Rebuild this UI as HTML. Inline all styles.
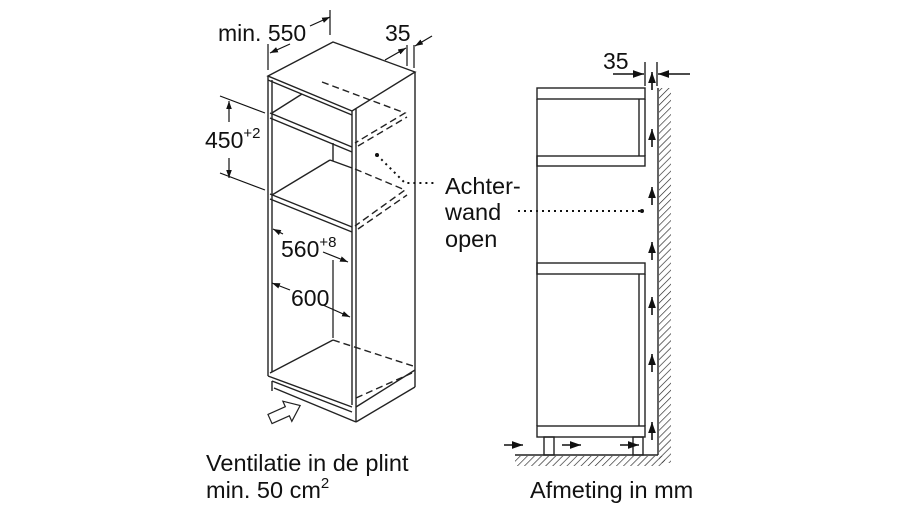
<!DOCTYPE html>
<html><head><meta charset="utf-8"><style>
html,body{margin:0;padding:0;background:#fff;}
svg{display:block;}
text{font-family:"Liberation Sans",Arial,sans-serif;fill:#111;}
</style></head><body>
<svg width="900" height="506" viewBox="0 0 900 506" xmlns="http://www.w3.org/2000/svg">
<defs>
<marker id="ar" viewBox="0 0 10 10" refX="10" refY="5" markerWidth="8" markerHeight="8" markerUnits="userSpaceOnUse" orient="auto-start-reverse"><path d="M0,1.5 L10,5 L0,8.5 z" fill="#111"/></marker>
<marker id="ar2" viewBox="0 0 10 10" refX="10" refY="5" markerWidth="11" markerHeight="11" markerUnits="userSpaceOnUse" orient="auto-start-reverse"><path d="M0,1.5 L10,5 L0,8.5 z" fill="#111"/></marker>
<pattern id="hatch" width="5" height="5" patternUnits="userSpaceOnUse" patternTransform="rotate(45)"><line x1="0" y1="0" x2="0" y2="5" stroke="#222" stroke-width="1.3"/></pattern>
</defs>
<g fill="none" stroke="#222" stroke-width="1.4">
<path d="M268,76 L333,42 L415,72 L352,111 Z"/>
<line x1="268" y1="76" x2="268" y2="376"/>
<line x1="272" y1="80" x2="272" y2="372"/>
<line x1="352" y1="111" x2="352" y2="405"/>
<line x1="356" y1="109" x2="356" y2="407"/>
<line x1="415" y1="72" x2="415" y2="368"/>
<line x1="268" y1="80" x2="352" y2="115"/>
<line x1="270" y1="113" x2="352" y2="147"/>
<line x1="270" y1="118" x2="352" y2="152"/>
<line x1="272" y1="113" x2="302" y2="94"/>
<line x1="333" y1="143" x2="333" y2="161"/>
<path d="M322,82 L405,113 L355,143" stroke-dasharray="7,4"/>
<path d="M358,146 L407,117" stroke-dasharray="7,4"/>
<line x1="270" y1="194" x2="352" y2="227"/>
<line x1="270" y1="199" x2="352" y2="232"/>
<line x1="272" y1="195" x2="330" y2="160"/>
<line x1="330" y1="160" x2="352" y2="168"/>
<path d="M355,169 L405,190 L355,226" stroke-dasharray="7,4"/>
<path d="M358,229 L407,195" stroke-dasharray="7,4"/>
<line x1="270" y1="373" x2="333" y2="340"/>
<path d="M333,340 L413,366" stroke-dasharray="7,4"/>
<path d="M356,398 L412,373" stroke-dasharray="7,4"/>
<line x1="268" y1="376" x2="352" y2="407"/>
<line x1="272" y1="381" x2="352" y2="412"/>
<line x1="272" y1="381" x2="272" y2="391"/>
<line x1="274" y1="388" x2="356" y2="422"/>
<line x1="356" y1="407" x2="356" y2="422"/>
<line x1="356" y1="422" x2="415" y2="387"/>
<line x1="415" y1="368" x2="415" y2="387"/>
<line x1="356" y1="407" x2="415" y2="370"/>
<path transform="translate(270,419) rotate(-24)" d="M0,-5 L19,-5 L19,-11 L33,0 L19,11 L19,5 L0,5 Z" stroke-width="1.2"/>
</g>
<g stroke="#111" stroke-width="1.2" fill="none">
<line x1="268" y1="70" x2="268" y2="44"/>
<line x1="330" y1="35" x2="330" y2="10"/>
<line x1="270" y1="53" x2="290" y2="44" marker-start="url(#ar)"/>
<line x1="310" y1="26" x2="330" y2="17" marker-end="url(#ar)"/>
<line x1="407" y1="66" x2="407" y2="45"/>
<line x1="414" y1="68" x2="414" y2="45"/>
<line x1="385" y1="60" x2="406" y2="48" marker-end="url(#ar)"/>
<line x1="432" y1="36" x2="415" y2="46" marker-end="url(#ar)"/>
<line x1="220" y1="96" x2="265" y2="113"/>
<line x1="220" y1="173" x2="265" y2="190"/>
<line x1="229" y1="101" x2="229" y2="122" marker-start="url(#ar)"/>
<line x1="229" y1="158" x2="229" y2="178" marker-end="url(#ar)"/>
<line x1="273" y1="229" x2="283" y2="234" marker-start="url(#ar)"/>
<line x1="323" y1="252" x2="348" y2="262" marker-end="url(#ar)"/>
<line x1="333" y1="260" x2="333" y2="338"/>
<line x1="272" y1="283" x2="290" y2="290" marker-start="url(#ar)"/>
<line x1="323" y1="305" x2="350" y2="317" marker-end="url(#ar)"/>
<path d="M377,155 L405,183 L435,183" stroke-dasharray="2,4" stroke-width="2"/>
<line x1="518" y1="211" x2="640" y2="211" stroke-dasharray="2,4" stroke-width="2"/>
</g>
<circle cx="377" cy="155" r="2" fill="#111"/>
<circle cx="642" cy="211" r="2" fill="#111"/>
<rect x="659" y="88" width="12" height="375" fill="url(#hatch)"/>
<rect x="515" y="456" width="150" height="10" fill="url(#hatch)"/>
<g fill="none" stroke="#222" stroke-width="1.4">
<line x1="658" y1="88" x2="658" y2="455"/>
<line x1="515" y1="455" x2="658" y2="455"/>
<rect x="537" y="88" width="108" height="11"/>
<rect x="537" y="156" width="108" height="10"/>
<line x1="639" y1="99" x2="639" y2="156"/>
<line x1="645" y1="99" x2="645" y2="156"/>
<line x1="537" y1="99" x2="537" y2="426"/>
<rect x="537" y="263" width="108" height="11"/>
<line x1="639" y1="274" x2="639" y2="426"/>
<line x1="645" y1="274" x2="645" y2="426"/>
<rect x="537" y="426" width="108" height="11"/>
<rect x="544" y="437" width="10" height="18"/>
<rect x="633" y="437" width="10" height="18"/>
<line x1="645" y1="62" x2="645" y2="86"/>
<line x1="657" y1="62" x2="657" y2="86"/>
</g>
<g stroke="#111" stroke-width="1.6" fill="none">
<line x1="613" y1="74" x2="644" y2="74" marker-end="url(#ar2)"/>
<line x1="690" y1="74" x2="658" y2="74" marker-end="url(#ar2)"/>
<line x1="652" y1="90" x2="652" y2="72" marker-end="url(#ar2)"/>
<line x1="652" y1="147" x2="652" y2="129" marker-end="url(#ar2)"/>
<line x1="652" y1="205" x2="652" y2="187" marker-end="url(#ar2)"/>
<line x1="652" y1="260" x2="652" y2="242" marker-end="url(#ar2)"/>
<line x1="652" y1="315" x2="652" y2="297" marker-end="url(#ar2)"/>
<line x1="652" y1="372" x2="652" y2="354" marker-end="url(#ar2)"/>
<line x1="652" y1="440" x2="652" y2="422" marker-end="url(#ar2)"/>
<line x1="504" y1="445" x2="523" y2="445" marker-end="url(#ar2)"/>
<line x1="562" y1="445" x2="581" y2="445" marker-end="url(#ar2)"/>
<line x1="620" y1="445" x2="639" y2="445" marker-end="url(#ar2)"/>
</g>
<text x="218" y="41" font-size="23">min. 550</text>
<text x="385" y="41" font-size="23">35</text>
<text x="205" y="148" font-size="23">450<tspan font-size="15" dy="-10">+2</tspan></text>
<text x="281" y="257" font-size="23">560<tspan font-size="15" dy="-10">+8</tspan></text>
<text x="291" y="306" font-size="23">600</text>
<text x="445" y="194" font-size="23.5">Achter-</text>
<text x="445" y="220" font-size="23.5">wand</text>
<text x="445" y="247" font-size="23.5">open</text>
<text x="603" y="69" font-size="23">35</text>
<text x="206" y="471" font-size="23.5">Ventilatie in de plint</text>
<text x="206" y="498" font-size="23.5">min. 50 cm<tspan font-size="15" dy="-10">2</tspan></text>
<text x="530" y="498" font-size="23.5">Afmeting in mm</text>
</svg>
</body></html>
